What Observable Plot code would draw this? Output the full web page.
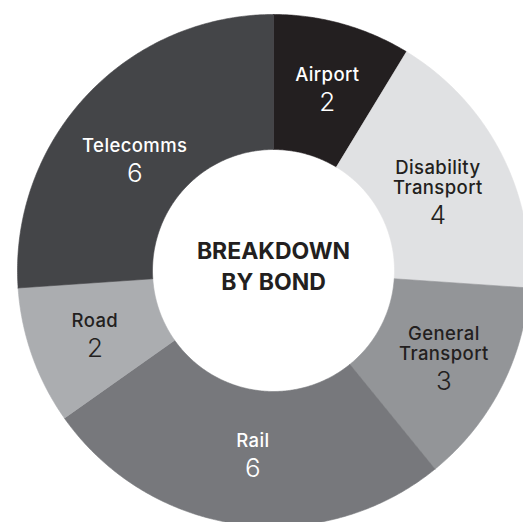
<!DOCTYPE html>
<html>
<head>
<meta charset="utf-8">
<script src="https://cdn.jsdelivr.net/npm/d3@7"></script>
<script src="https://cdn.jsdelivr.net/npm/@observablehq/plot@0.6"></script>
<style>
  html, body { margin: 0; padding: 0; background: #ffffff; }
  #chart { width: 523px; height: 522px; overflow: hidden; }
  #chart svg g[aria-label="text"]:nth-of-type(2) text { letter-spacing: 0.4px; }
</style>
</head>
<body>
<div id="chart"></div>
<script>
// ---- data ----
const categories = ["Airport", "Disability Transport", "General Transport", "Rail", "Road", "Telecomms"];
const bondCounts = [2, 4, 3, 6, 2, 6];
const labelLines = ["Airport", "Disability\nTransport", "General\nTransport", "Rail", "Road", "Telecomms"];
const centerTitle = "BREAKDOWN\nBY BOND";

// ---- styles / layout ----
const sliceColors = ["#231f20", "#e0e1e3", "#939598", "#77787c", "#abadb0", "#444548"];
const textColors  = ["#ffffff", "#231f20", "#231f20", "#ffffff", "#231f20", "#ffffff"];
const labelShift = { // small layout nudges [dx, dy] in px
  "Airport": [3, 1], "Disability Transport": [-3, 9], "General Transport": [3, 1],
  "Rail": [5, -2], "Road": [-1, 2], "Telecomms": [-1, 19]
};
const W = 523, H = 522;
const cx = 273, cy = 270;   // donut centre in px
const R = 256, r0 = 121;    // outer / inner radius
const lineGap = 20, valueGap = 30, capH = 13;
const nameSize = 18.5;

// ---- build geometry from data ----
const total = d3.sum(bondCounts);
let acc = 0;
const slices = categories.map((name, i) => {
  const a0 = acc / total * 2 * Math.PI;
  acc += bondCounts[i];
  const a1 = acc / total * 2 * Math.PI;
  return { name, value: bondCounts[i], a0, a1, lines: labelLines[i], tc: textColors[i] };
});

const pts = [];
for (const s of slices) {
  const n = Math.max(2, Math.ceil((s.a1 - s.a0) / (Math.PI / 360)));
  const ring = [];
  for (let k = 0; k <= n; k++) {
    const a = s.a0 + (s.a1 - s.a0) * k / n;
    ring.push({ name: s.name, x: R * Math.sin(a), y: -R * Math.cos(a) });
  }
  for (let k = n; k >= 0; k--) {
    const a = s.a0 + (s.a1 - s.a0) * k / n;
    ring.push({ name: s.name, x: r0 * Math.sin(a), y: -r0 * Math.cos(a) });
  }
  ring.push(ring[0]);
  pts.push(...ring);
}

const rm = (R + r0) / 2;
const labels = slices.map(s => {
  const am = (s.a0 + s.a1) / 2;
  const sh = labelShift[s.name] || [0, 0];
  const n = s.lines.split("\n").length;
  const c = { x: rm * Math.sin(am) + sh[0], y: -rm * Math.cos(am) + sh[1] };
  const y0 = c.y - (lineGap * (n - 1) + valueGap + capH) / 2 + capH; // first name baseline
  const lastNameBase = y0 + lineGap * (n - 1);
  return { ...s, x: c.x, yName: lastNameBase, yValue: lastNameBase + valueGap };
});

const plot = Plot.plot({
  width: W,
  height: H,
  margin: 0,
  x: { domain: [-cx, W - cx], range: [0, W], axis: null },
  y: { domain: [-cy, H - cy], range: [0, H], axis: null },
  color: { type: "ordinal", domain: categories, range: sliceColors },
  style: { background: "#ffffff", fontFamily: "Inter, 'Noto Sans', sans-serif" },
  marks: [
    Plot.line(pts, { x: "x", y: "y", z: "name", fill: "name", stroke: "name", strokeWidth: 0.6, curve: "linear" }),
    Plot.text(labels, {
      x: "x", y: "yName", text: "lines", fill: d => d.tc,
      fontSize: nameSize, fontWeight: 500, lineAnchor: "bottom", lineHeight: lineGap / nameSize
    }),
    Plot.text(labels, {
      x: "x", y: "yValue", text: d => String(d.value), fill: d => d.tc,
      fontSize: 26, fontWeight: 300, lineAnchor: "bottom"
    }),
    Plot.text([centerTitle], {
      x: () => 0, y: () => 19, text: d => d, fill: "#231f20",
      fontSize: 23, fontWeight: 700, lineAnchor: "bottom", lineHeight: 31 / 23
    })
  ]
});
document.getElementById("chart").appendChild(plot);
</script>
</body>
</html>
